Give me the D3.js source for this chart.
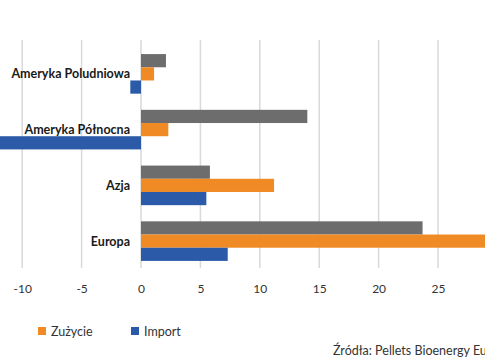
<!DOCTYPE html>
<html>
<head>
<meta charset="utf-8">
<script src="https://cdn.jsdelivr.net/npm/d3@7"></script>
<style>
  html, body { margin: 0; padding: 0; background: #fff; overflow: hidden; }
  svg { display: block; }
</style>
</head>
<body>
<script>
const categories = ["Ameryka Poludniowa", "Ameryka Północna", "Azja", "Europa"];
const seriesNames = ["Produkcja", "Zużycie", "Import"];
const produkcja = [2.1, 14.0, 5.8, 23.7];
const zuzycie = [1.1, 2.3, 11.2, 30.5];
const importValues = [-0.9, -13.5, 5.5, 7.3];
const gridValues = [-15, -10, -5, 0, 5, 10, 15, 20, 25, 30, 35];
const tickValues = [-10, -5, 0, 5, 10, 15, 20, 25];
const sourceText = "Źródła: Pellets Bioenergy Europe";

const series = [produkcja, zuzycie, importValues];
const colors = ["#6d6d6d", "#f08a24", "#2b5ba8"];

const W = 485, H = 360;
const svg = d3.select("body").append("svg").attr("width", W).attr("height", H);
const font = "Lato, 'Open Sans', sans-serif";

const x = d3.scaleLinear().domain([-15, 35]).range([141 - 15 * 11.88, 141 + 35 * 11.88]);
const y = d3.scaleBand().domain(categories).range([46, 269]).paddingInner(0.29).paddingOuter(0.145);
const ySub = d3.scaleBand().domain(seriesNames).range([0, y.bandwidth()]);

// gridlines
svg.append("g").selectAll("line").data(gridValues).join("line")
  .attr("x1", d => x(d)).attr("x2", d => x(d))
  .attr("y1", 40).attr("y2", 268)
  .attr("stroke", "#d9d9d9").attr("stroke-width", 1.5);

// bars
const groups = svg.append("g").selectAll("g").data(categories).join("g")
  .attr("transform", c => `translate(0,${y(c)})`);
groups.selectAll("rect").data((c, i) => series.map((s, k) => ({ name: seriesNames[k], v: s[i], k })))
  .join("rect")
  .attr("x", d => x(Math.min(0, d.v)))
  .attr("width", d => Math.abs(x(d.v) - x(0)))
  .attr("y", d => ySub(d.name))
  .attr("height", ySub.bandwidth())
  .attr("fill", d => colors[d.k]);

// category labels
svg.append("g").selectAll("text").data(categories).join("text")
  .attr("x", 130)
  .attr("y", c => y(c) + y.bandwidth() / 2)
  .attr("text-anchor", "end").attr("dominant-baseline", "central")
  .attr("font-family", font).attr("font-weight", 700).attr("font-size", 12.5)
  .attr("fill", "#1a1a1a")
  .text(c => c);

// x axis
const axis = svg.append("g").attr("transform", "translate(0,284)")
  .call(d3.axisBottom(x).tickValues(tickValues).tickSize(0).tickPadding(0).tickFormat(d => String(d)));
axis.select(".domain").remove();
axis.selectAll("text").attr("font-family", font).attr("font-size", 12).attr("fill", "#333")
  .attr("dy", "0.71em");

// legend
const legendX = [-68, 38, 131];
const lg = svg.append("g").selectAll("g").data(seriesNames).join("g")
  .attr("transform", (d, i) => `translate(${legendX[i]},327)`);
lg.append("rect").attr("width", 8).attr("height", 8).attr("fill", (d, i) => colors[i]);
lg.append("text").attr("x", 13).attr("y", 4).attr("dominant-baseline", "central")
  .attr("font-family", font).attr("font-size", 12.5).attr("fill", "#333").text(d => d);

// source
svg.append("text").attr("x", 333).attr("y", 350).attr("dominant-baseline", "central")
  .attr("font-family", font).attr("font-size", 12.5).attr("fill", "#333").text(sourceText);
</script>
</body>
</html>
